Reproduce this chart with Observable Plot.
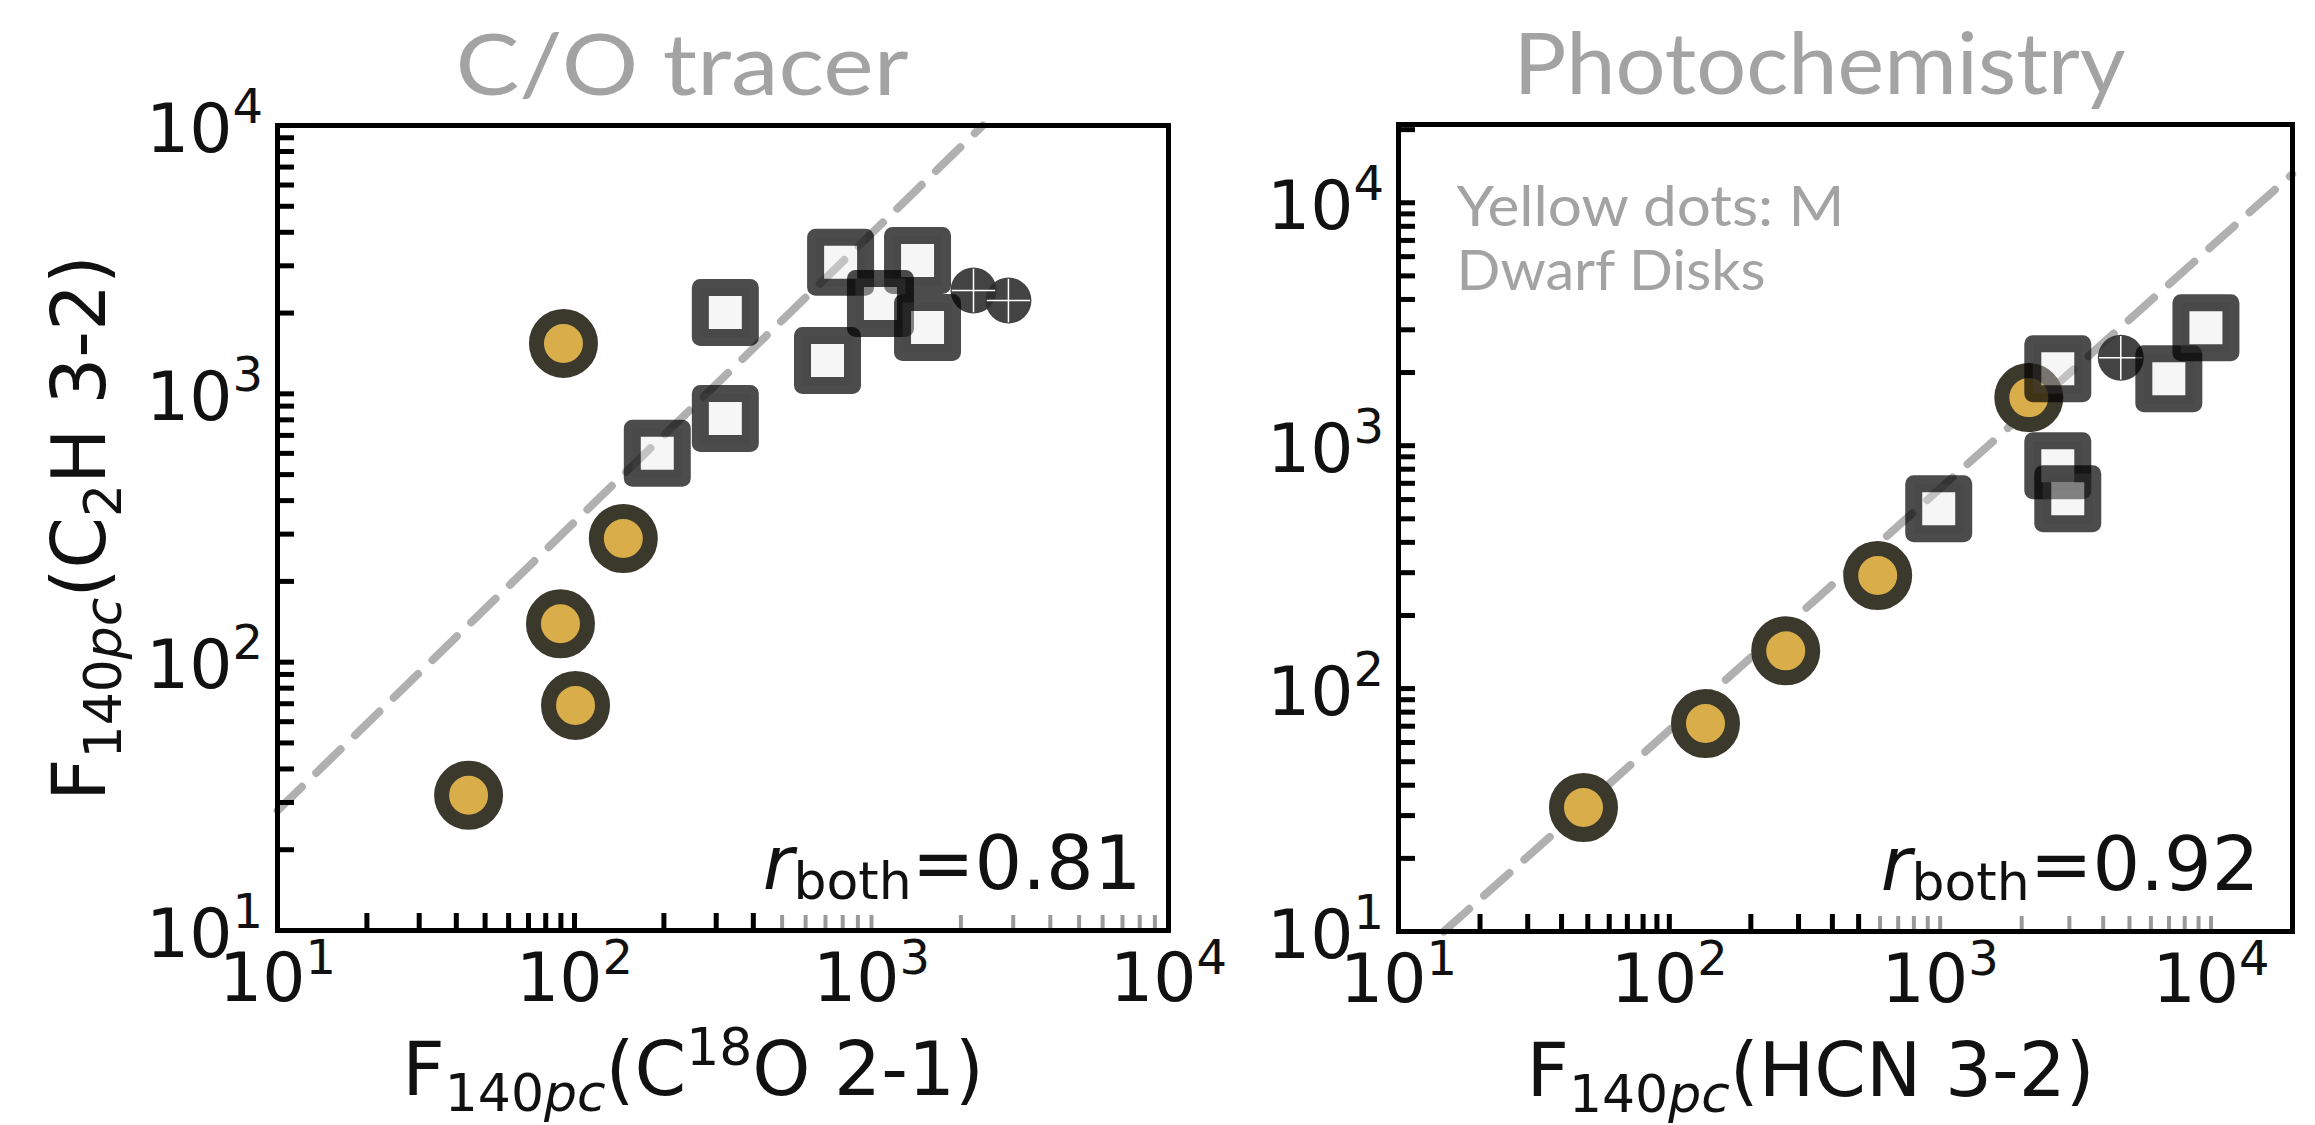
<!DOCTYPE html>
<html><head><meta charset="utf-8">
<script src="https://cdn.jsdelivr.net/npm/d3@7"></script>
<script src="https://cdn.jsdelivr.net/npm/@observablehq/plot@0.6"></script>
<style>
body{margin:0;background:#fff;}
#wrap{position:relative;width:2315px;height:1125px;overflow:hidden;background:#fff;}
#left{position:absolute;left:0;top:0;z-index:2;}
#right{position:absolute;left:1200px;top:0;z-index:1;}
</style></head><body>
<div id="wrap"><div id="left"></div><div id="right"></div></div>
<script>
// ---------- data ----------
// Left panel: C/O tracer  (x = C18O 2-1 flux, y = C2H 3-2 flux)
const leftDiskX   = [91.8, 146, 89.7, 100.8, 44];
const leftDiskY   = [1541, 289, 139, 69, 31.9];
const leftSquareX = [190, 322, 322, 711, 787, 1429, 1072, 1544];
const leftSquareY = [600, 810, 2011, 1332, 3090, 3141, 2173, 1768];
const leftStarX   = [2205, 2891];
const leftStarY   = [2427, 2228];
const leftFitX    = [10, 2370];
const leftFitY    = [28, 10000];
const leftR       = "0.81";

// Right panel: Photochemistry (x = HCN 3-2 flux, y = C2H 3-2 flux)
const rightDiskX   = [48.2, 136, 269, 588, 2125];
const rightDiskY   = [32.4, 71.8, 143, 292, 1577];
const rightSquareX = [988, 2719, 2719, 2960, 6989, 9580];
const rightSquareY = [550, 2075, 827, 605, 1888, 3060];
const rightStarX   = [4645];
const rightStarY   = [2301];
const rightFitX    = [14.7, 19950];
const rightFitY    = [10, 13100];
const rightR       = "0.92";

// ticks
const decadeTicks = [10, 100, 1000, 10000];
const decadeExps  = ["1", "2", "3", "4"];
const minorMults  = [1, 2, 3, 4, 5, 6, 7, 8, 9];

const titles = ["C/O tracer", "Photochemistry"];
const note = "Yellow dots: M\nDwarf Disks";

// ---------- helpers ----------
const zip = (xs, ys) => xs.map((x, i) => ({x, y: ys[i]}));
const logTicks = (hi) => {
  const out = [];
  for (const d of [10, 100, 1000, 10000]) for (const m of minorMults) { const v = d * m; if (v <= hi * 1.0001) out.push(v); }
  return out;
};
const FONT = "DejaVu Sans, Liberation Sans, sans-serif";
const TFONT = "Lato, 'Noto Sans', sans-serif";

function rich(svg, cls, parts) {
  d3.select(svg).selectAll(`g.${cls} text`).each(function() {
    const t = d3.select(this);
    t.text(null);
    let prev = 0;
    for (const p of parts) {
      const s = t.append("tspan").text(p.t);
      if (p.size) s.attr("font-size", p.size);
      if (p.italic) s.attr("font-style", "italic");
      const shift = p.shift || 0;
      if (shift !== prev) s.attr("dy", shift - prev);
      prev = shift;
    }
  });
}

function panel(o) {
  const H = 1125;
  const fw = o.width - o.ml - o.mr, fh = H - o.mt - o.mb;
  const xt = logTicks(o.xTickMax), yt = logTicks(o.yTickMax);
  const marks = [
    Plot.line(zip(o.fitX, o.fitY), {x: "x", y: "y", stroke: "#b0b0b0", strokeWidth: 8, strokeDasharray: "34,20"}),
    Plot.dot(zip(o.diskX, o.diskY), {x: "x", y: "y", r: 27, fill: "#d8ad4a", stroke: "#3b382c", strokeWidth: 15}),
    Plot.dot(zip(o.starX, o.starY), {x: "x", y: "y", r: 23, fill: "#2f2f2f", fillOpacity: 0.9}),
    Plot.dot(zip(o.starX, o.starY), {x: "x", y: "y", r: 14, symbol: "plus", stroke: "white", strokeWidth: 1.5}),
    Plot.dot(zip(o.squareX, o.squareY), {x: "x", y: "y", r: 28.2, symbol: "square", fill: "#e6e6e6", fillOpacity: 0.35,
      stroke: "black", strokeOpacity: 0.7, strokeWidth: 17, strokeLinejoin: "round"}),
    // inward ticks
    Plot.tickX(xt, {x: d => d, filter: d => d < o.grayFrom, stroke: "black", strokeWidth: 5, insetTop: fh - 17}),
    Plot.tickX(xt, {x: d => d, filter: d => d >= o.grayFrom, stroke: "#9a9a9a", strokeWidth: 4, insetTop: fh - 15}),
    Plot.tickY(yt, {y: d => d, stroke: "black", strokeWidth: 5, insetRight: fw - 17}),
    Plot.frame({stroke: "black", strokeWidth: 5}),
    // tick labels: x
    Plot.text(decadeTicks, {x: d => d, frameAnchor: "bottom", text: () => "10", textAnchor: "end", lineAnchor: "bottom",
      dx: 28, dy: 70, fontSize: 68, fontFamily: FONT, fill: "#111"}),
    Plot.text(decadeTicks, {x: d => d, frameAnchor: "bottom", text: (d, i) => decadeExps[i], textAnchor: "start", lineAnchor: "bottom",
      dx: 28, dy: 43, fontSize: 48, fontFamily: FONT, fill: "#111"}),
    // tick labels: y
    Plot.text(decadeTicks, {y: d => d, frameAnchor: "left", text: () => "10", textAnchor: "end", lineAnchor: "bottom",
      dx: -45, dy: 26, fontSize: 68, fontFamily: FONT, fill: "#111"}),
    Plot.text(decadeTicks, {y: d => d, frameAnchor: "left", text: (d, i) => decadeExps[i], textAnchor: "start", lineAnchor: "bottom",
      dx: -45, dy: -3, fontSize: 48, fontFamily: FONT, fill: "#111"}),
    // correlation coefficient
    Plot.text([o.r], {frameAnchor: "bottom-right", text: d => d, textAnchor: "end", lineAnchor: "bottom",
      dx: o.rdx, dy: -42, fontSize: 75, fontFamily: FONT, fill: "#111", className: "rtext"}),
    // x axis title
    Plot.text([0], {frameAnchor: "bottom", text: () => o.xTitle, textAnchor: "middle", lineAnchor: "bottom",
      dx: o.xTitleDx, dy: 164, fontSize: 74, fontFamily: FONT, fill: "#111", className: "xtitle"}),
    // panel title
    Plot.text([0], {frameAnchor: "top", text: () => o.title, textAnchor: "middle", lineAnchor: "bottom",
      dx: o.titleDx, dy: -31, fontSize: 86, fontFamily: TFONT, fill: "#a3a3a3", className: "ptitle"})
  ];
  if (o.yTitle) marks.push(Plot.text([0], {frameAnchor: "left", text: () => o.yTitle, textAnchor: "middle", lineAnchor: "bottom",
      rotate: -90, dx: -173, fontSize: 74, fontFamily: FONT, fill: "#111", className: "ytitle"}));
  if (o.note) marks.push(Plot.text([o.note], {frameAnchor: "top-left", text: d => d, textAnchor: "start", lineAnchor: "top",
      dx: 58, dy: 56, fontSize: 57, lineHeight: 1.12, fontFamily: TFONT, fill: "#a3a3a3", className: "pnote"}));

  const svg = Plot.plot({
    width: o.width, height: H,
    marginLeft: o.ml, marginRight: o.mr, marginTop: o.mt, marginBottom: o.mb,
    x: {type: "log", domain: o.xDomain, axis: null},
    y: {type: "log", domain: o.yDomain, axis: null},
    style: {background: "transparent", fontFamily: FONT, overflow: "visible"},
    marks
  });
  // rich text (sub/superscripts)
  const sub = [{t: "F"}, {t: "140", size: 52, shift: 16}, {t: "pc", size: 52, shift: 16, italic: true}];
  rich(svg, "xtitle", o.xParts(sub));
  if (o.yTitle) rich(svg, "ytitle", [...sub, {t: "(C"}, {t: "2", size: 52, shift: 16}, {t: "H 3-2)"}]);
  rich(svg, "rtext", [{t: "r", italic: true}, {t: "both", size: 52, shift: 10}, {t: "=" + o.r}]);
  d3.select(svg).selectAll("g.ptitle text").attr("textLength", o.titleLen).attr("lengthAdjust", "spacingAndGlyphs");
  d3.select(svg).selectAll("g.pnote tspan").each(function(d, i) {
    d3.select(this).attr("textLength", o.noteLens[i]).attr("lengthAdjust", "spacingAndGlyphs");
  });
  return svg;
}

document.getElementById("left").appendChild(panel({
  width: 1200, ml: 277, mr: 32, mt: 125, mb: 195,
  xDomain: [10, 10000], yDomain: [10, 10000], xTickMax: 10000, yTickMax: 10000, grayFrom: 450,
  diskX: leftDiskX, diskY: leftDiskY, squareX: leftSquareX, squareY: leftSquareY,
  starX: leftStarX, starY: leftStarY, fitX: leftFitX, fitY: leftFitY, r: leftR, rdx: -27,
  title: titles[0], titleDx: -41, titleLen: 453,
  xTitle: "F140pc(C18O 2-1)", xTitleDx: -30,
  xParts: sub => [...sub, {t: "(C"}, {t: "18", size: 52, shift: -30}, {t: "O 2-1)"}],
  yTitle: "F140pc(C2H 3-2)"
}));
document.getElementById("right").appendChild(panel({
  width: 1115, ml: 198, mr: 23, mt: 124, mb: 194,
  xDomain: [10, 20000], yDomain: [10, 21000], xTickMax: 10000, yTickMax: 20000, grayFrom: 550,
  diskX: rightDiskX, diskY: rightDiskY, squareX: rightSquareX, squareY: rightSquareY,
  starX: rightStarX, starY: rightStarY, fitX: rightFitX, fitY: rightFitY, r: rightR, rdx: -33,
  title: titles[1], titleDx: -26, titleLen: 612,
  xTitle: "F140pc(HCN 3-2)", xTitleDx: -35,
  xParts: sub => [...sub, {t: "(HCN 3-2)"}],
  note: note, noteLens: [388, 309]
}));
</script>
</body></html>
